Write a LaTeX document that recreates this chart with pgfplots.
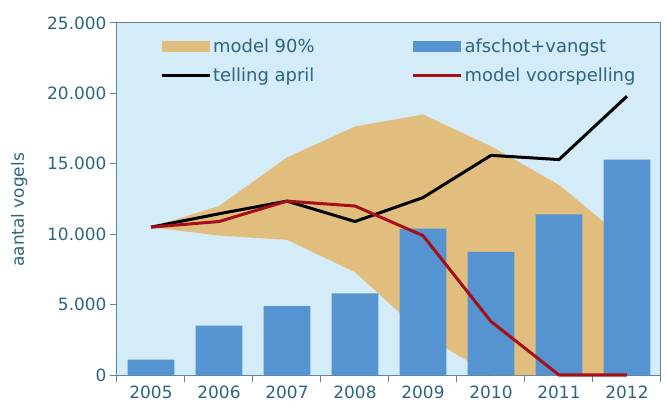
\documentclass[border=0pt]{standalone}
\usepackage{fontspec}
\setmainfont{DejaVu Sans}
\usepackage{pgfplots}
\pgfplotsset{compat=1.18}
\definecolor{bgblue}{RGB}{212,235,248}
\definecolor{bandorange}{RGB}{225,190,125}
\definecolor{barblue}{RGB}{85,148,208}
\definecolor{predred}{RGB}{165,15,25}
\definecolor{axisc}{RGB}{94,132,160}
\definecolor{labelc}{RGB}{45,100,130}

\begin{document}
\begin{tikzpicture}
\begin{axis}[
    scale only axis,
    width=544bp,
    height=352bp,
    xmin=-0.5, xmax=7.5,
    ymin=0, ymax=25000,
    clip=false,
    axis background/.style={fill=bgblue},
    axis line style={draw=axisc, line width=1bp},
    xtick={0,...,7},
    xticklabels={2005,2006,2007,2008,2009,2010,2011,2012},
    major x tick style={draw=none},
    minor xtick={-0.5,0.5,...,7.5},
    ytick={0,5000,10000,15000,20000,25000},
    xtick pos=lower, ytick pos=left,
    tick align=outside,
    major tick length=7bp,
    minor tick length=7bp,
    tick style={draw=axisc, line width=1bp},
    scaled y ticks=false,
    yticklabel style={/pgf/number format/.cd, 1000 sep={.}, assume math mode=true},
    tick label style={font=\fontsize{17}{20}\selectfont, text=labelc},
    ylabel={aantal vogels},
    ylabel style={at={(axis description cs:-0.18,0.469)}, anchor=center,
        font=\fontsize{17}{20}\selectfont, text=labelc},
    legend columns=2,
    legend style={
        at={(rel axis cs:0,1)}, anchor=north west,
        xshift=40bp, yshift=-12bp,
        draw=none, fill=none,
        font=\fontsize{18}{21}\selectfont, text=labelc,
        row sep=10bp,
        /tikz/every even column/.append style={column sep=95bp},
    },
    legend cell align=left,
]

% model 90% band (upper bound, then lower bound back)
\addplot[fill=bandorange, draw=none,
    legend image code/.code={\fill[bandorange] (0bp,-5.5bp) rectangle (48bp,5.5bp);}]
coordinates {
    (0,10500) (1,12000) (2,15450) (3,17650) (4,18500) (5,16250) (6,13500) (7,9500)
    (7,0) (6,0) (5,0) (4,2900) (3,7300) (2,9600) (1,9900) (0,10500)
} -- cycle;

% afschot+vangst
\addplot[ybar, bar width=0.69, fill=barblue, draw=none,
    legend image code/.code={\fill[barblue] (0bp,-5.5bp) rectangle (48bp,5.5bp);}]
coordinates {
    (0,1100) (1,3500) (2,4900) (3,5800) (4,10400) (5,8750) (6,11400) (7,15300)
};

% telling april
\addplot[black, line width=3bp, line join=round,
    legend image code/.code={\draw[black, line width=3bp] (0bp,0bp) -- (48bp,0bp);}]
coordinates {
    (0,10500) (1,11450) (2,12350) (3,10900) (4,12600) (5,15600) (6,15300) (7,19800)
};

% model voorspelling
\addplot[predred, line width=3bp, line join=round,
    legend image code/.code={\draw[predred, line width=3bp] (0bp,0bp) -- (48bp,0bp);}]
coordinates {
    (0,10500) (1,10900) (2,12350) (3,12000) (4,9900) (5,3800) (6,0) (7,0)
};

\legend{model 90\%, afschot+vangst, telling april, model voorspelling}
\end{axis}
\path (current axis.south west) ++(-117bp,-32bp) rectangle ++(667bp,407bp);
\end{tikzpicture}
\end{document}
